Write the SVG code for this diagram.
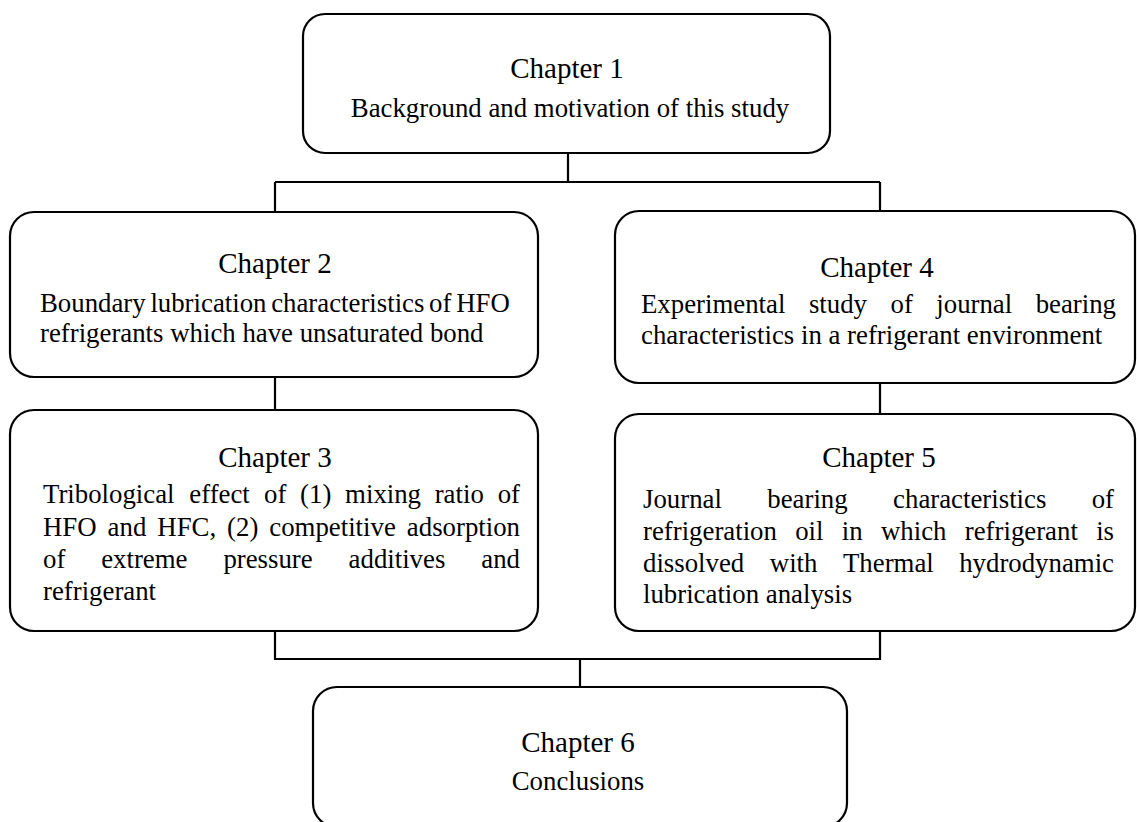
<svg xmlns="http://www.w3.org/2000/svg" width="1137" height="822" viewBox="0 0 1137 822">
<style>
.box{fill:#fff;stroke:#000;stroke-width:2.2}
.conn{fill:none;stroke:#000;stroke-width:2.2}
.h{font-family:"Liberation Serif","Times New Roman",serif;font-size:29px;fill:#000;text-anchor:middle}
.b{font-family:"Liberation Serif","Times New Roman",serif;font-size:26.8px;fill:#000}
.c{text-anchor:middle}
.e{text-anchor:end}
</style>
<rect width="1137" height="822" fill="#fff"/>
<g id="connectors">
<path class="conn" d="M568,153 V182 M275,182 H880 M275,182 V212 M880,182 V211"/>
<path class="conn" d="M275,377 V410 M880,383 V414"/>
<path class="conn" d="M275,631 V659 H880 V631 M580,659 V687"/>
</g>
<g id="ch1">
<rect class="box" x="303" y="14" width="527" height="139" rx="22"/>
<text class="h" x="567" y="78">Chapter 1</text>
<text class="b c" x="570" y="117">Background and motivation of this study</text>
</g>
<g id="ch2">
<rect class="box" x="10" y="212" width="528" height="165" rx="24"/>
<text class="h" x="275" y="273">Chapter 2</text>
<text class="b" x="40" y="312" style="word-spacing:-2px">Boundary lubrication characteristics of HFO</text>
<text class="b" x="40" y="342">refrigerants which have unsaturated bond</text>
</g>
<g id="ch3">
<rect class="box" x="10" y="410" width="528" height="221" rx="24"/>
<text class="h" x="275" y="467">Chapter 3</text>
<text class="b" y="503"><tspan x="43">Tribological</tspan><tspan x="189.3">effect</tspan><tspan x="264">of</tspan><tspan x="300.1">(1)</tspan><tspan x="345.1">mixing</tspan><tspan x="434.7">ratio</tspan></text>
<text class="b e" x="520" y="503">of</text>
<text class="b" y="536"><tspan x="43">HFO</tspan><tspan x="107.6">and</tspan><tspan x="157.3">HFC,</tspan><tspan x="227.1">(2)</tspan><tspan x="269.3">competitive</tspan></text>
<text class="b e" x="520" y="536">adsorption</text>
<text class="b" y="568"><tspan x="43">of</tspan><tspan x="101.2">extreme</tspan><tspan x="223.4">pressure</tspan><tspan x="348.6">additives</tspan></text>
<text class="b e" x="520" y="568">and</text>
<text class="b" x="43" y="600">refrigerant</text>
</g>
<g id="ch4">
<rect class="box" x="615" y="211" width="520" height="172" rx="24"/>
<text class="h" x="877" y="277">Chapter 4</text>
<text class="b" y="313"><tspan x="641">Experimental</tspan><tspan x="808.9">study</tspan><tspan x="890.5">of</tspan><tspan x="936.3">journal</tspan></text>
<text class="b e" x="1116" y="313">bearing</text>
<text class="b" x="641" y="344">characteristics in a refrigerant environment</text>
</g>
<g id="ch5">
<rect class="box" x="615" y="414" width="520" height="217" rx="24"/>
<text class="h" x="879" y="467">Chapter 5</text>
<text class="b" y="508"><tspan x="643">Journal</tspan><tspan x="767.3">bearing</tspan><tspan x="893.1">characteristics</tspan></text>
<text class="b e" x="1114" y="508">of</text>
<text class="b" y="540"><tspan x="643">refrigeration</tspan><tspan x="795.2">oil</tspan><tspan x="841.8">in</tspan><tspan x="881">which</tspan><tspan x="964.8">refrigerant</tspan></text>
<text class="b e" x="1114" y="540">is</text>
<text class="b" y="572"><tspan x="643">dissolved</tspan><tspan x="769.8">with</tspan><tspan x="843">Thermal</tspan></text>
<text class="b e" x="1114" y="572">hydrodynamic</text>
<text class="b" x="643" y="603">lubrication analysis</text>
</g>
<g id="ch6">
<rect class="box" x="313" y="687" width="534" height="140" rx="24"/>
<text class="h" x="578" y="752">Chapter 6</text>
<text class="b c" x="578" y="790">Conclusions</text>
</g>
</svg>
